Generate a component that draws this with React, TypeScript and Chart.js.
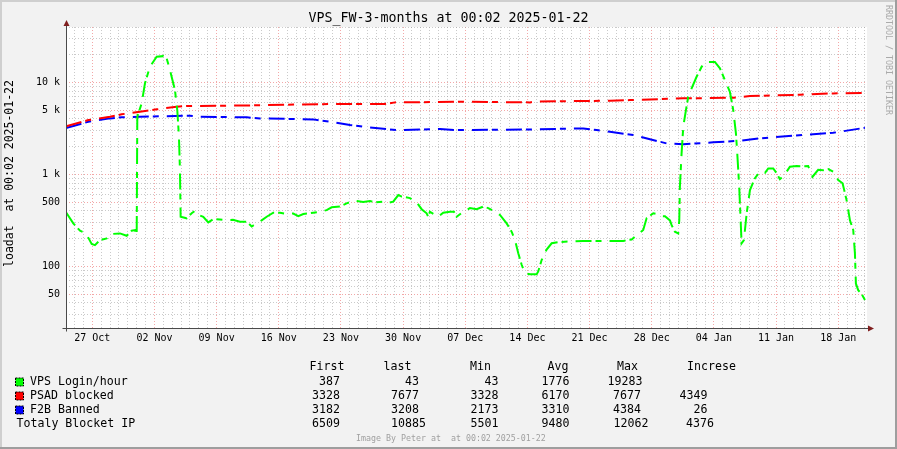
import React, { useEffect, useRef } from "react";
import { Chart, registerables } from "chart.js";

Chart.register(...registerables);

// ---------- data ----------
const chartTitle = "VPS_FW-3-months at 00:02 2025-01-22";
const yAxisTitle = "loadat  at 00:02 2025-01-22";
const sideText = "RRDTOOL / TOBI OETIKER";
const footerText = "Image By Peter at  at 00:02 2025-01-22";

// x is measured in days from the "27 Oct" major grid line
const xMin = -2.96;
const xMax = 87.24;
const xTickLabels = ["27 Oct", "02 Nov", "09 Nov", "16 Nov", "23 Nov", "30 Nov", "07 Dec", "14 Dec", "21 Dec", "28 Dec", "04 Jan", "11 Jan", "18 Jan"];

const yMin = 21.35;
const yMax = 40000;
const yMajorValues = [50, 100, 500, 1000, 5000, 10000];
const yMajorLabels = ["50", "100", "500", "1 k", "5 k", "10 k"];

const vpsDays = [
  -2.96, -2.14, -1.38, -0.71, -0.07, 0.3, 0.87, 1.62, 1.99, 3.12,
  3.87, 4.44, 4.81, 5.0, 5.07, 5.56, 5.93, 6.49, 7.25, 7.99,
  8.38, 8.75, 9.31, 9.57, 9.76, 9.87, 9.95, 10.63, 11.19, 11.56,
  11.94, 12.5, 13.06, 13.62, 14.38, 14.94, 15.84, 16.63, 17.39, 17.95,
  18.51, 19.07, 19.64, 20.38, 21.13, 21.89, 22.63, 23.2, 23.76, 24.88,
  25.64, 26.39, 26.96, 27.89, 28.64, 29.58, 30.51, 31.27, 31.83, 32.77,
  33.15, 33.89, 34.46, 34.84, 35.77, 36.53, 37.09, 37.65, 37.83, 38.02,
  38.96, 39.52, 40.28, 40.73, 41.03, 41.77, 42.53, 43.28, 44.03, 44.59,
  45.15, 45.91, 46.66, 47.22, 47.6, 47.97, 48.35, 48.72, 49.29, 50.04,
  50.22, 50.6, 51.16, 51.73, 52.66, 55.29, 58.29, 59.79, 60.74, 62.04,
  62.42, 63.17, 63.55, 63.92, 64.49, 65.05, 65.24, 65.61, 65.98, 66.1,
  66.17, 66.36, 66.55, 66.85, 67.11, 67.49, 68.05, 68.62, 69.18, 70.11,
  70.68, 71.24, 71.8, 72.18, 72.48, 72.63, 72.85, 73.01, 73.12, 73.38,
  73.69, 74.06, 74.62, 75.18, 75.75, 76.12, 76.68, 77.06, 77.43, 77.99,
  78.56, 79.31, 80.05, 80.62, 81.11, 81.74, 82.31, 82.87, 83.43, 84.0,
  84.49, 84.94, 85.32, 85.69, 85.88, 85.99, 86.25, 86.63, 87.01,
];
const vpsValues = [
  387, 293, 244, 228, 175, 170, 193, 201, 224, 228,
  215, 244, 248, 215, 4227, 5913, 9750, 14800, 18970, 19283,
  18200, 13600, 8250, 5000, 2560, 1120, 346, 333, 377, 401,
  362, 346, 300, 326, 322, 318, 320, 306, 306, 271,
  293, 316, 346, 383, 383, 371, 375, 352, 371, 383,
  392, 408, 438, 446, 484, 518, 500, 514, 495, 505,
  484, 505, 596, 573, 552, 495, 418, 377, 346, 392,
  346, 383, 392, 392, 346, 392, 430, 418, 446, 430,
  401, 362, 293, 238, 193, 139, 104, 84, 82, 82,
  88, 117, 152, 178, 184, 189, 189, 189, 196, 248,
  333, 377, 370, 352, 350, 316, 280, 238, 228, 316,
  734, 1690, 3290, 5000, 6970, 8600, 11500, 14800, 16700, 16700,
  14200, 10600, 7900, 5000, 2790, 1690, 734, 316, 178, 193,
  377, 674, 909, 1070, 1040, 1160, 1160, 1030, 885, 1000,
  1210, 1230, 1220, 1230, 942, 1120, 1110, 1140, 1070, 869,
  799, 525, 316, 248, 139, 65, 55, 50, 43,
];

const psadDays = [-2.96, -0.45, 1.99, 3.31, 5.37, 7.25, 9.5, 10.63, 17.76, 23.4, 27.89, 32.96, 34.09, 41.77, 49.29, 50.04, 54.21, 58.3, 60.54, 66.55, 72.18, 74.06, 79.69, 83.43, 87.01];
const psadValues = [3328, 3890, 4230, 4500, 4790, 5090, 5430, 5530, 5620, 5750, 5830, 5830, 6060, 6150, 6060, 6210, 6260, 6310, 6420, 6700, 6800, 7090, 7330, 7590, 7677];

const f2bDays = [-2.96, -0.45, 1.99, 3.31, 5.37, 11.0, 12.13, 17.39, 18.89, 24.88, 26.76, 29.02, 31.27, 34.28, 39.15, 41.03, 49.29, 55.29, 56.8, 58.29, 60.92, 62.8, 64.68, 66.55, 69.93, 72.93, 75.18, 78.93, 83.43, 87.01];
const f2bValues = [3182, 3730, 4060, 4170, 4230, 4340, 4230, 4170, 4060, 3960, 3730, 3440, 3240, 3030, 3110, 3030, 3080, 3160, 3030, 2900, 2680, 2410, 2170, 2120, 2230, 2320, 2460, 2630, 2830, 3208];

const legendHeaders = ["First", "last", "Min", "Avg", "Max", "Increse"];
const seriesNames = ["VPS Login/hour", "PSAD blocked", "F2B Banned", "Totaly Blocket IP"];
const seriesColors = ["#00ff00", "#ff0000", "#0000ff", ""];
const vpsStats = ["387", "43", "43", "1776", "19283", ""];
const psadStats = ["3328", "7677", "3328", "6170", "7677", "4349"];
const f2bStats = ["3182", "3208", "2173", "3310", "4384", "26"];
const totalStats = ["6509", "10885", "5501", "9480", "12062", "4376"];

// ---------- styling ----------
const FONT = "'DejaVu Sans Mono', monospace";
const MINOR_GRID = "rgba(150,150,150,0.5)";
const MAJOR_GRID = "rgba(235,110,110,0.6)";
const LINE_DASH = [16, 4, 6, 8];

const toPoints = (xs: number[], ys: number[]) => xs.map((x, i) => ({ x, y: ys[i] }));

const yGridValues: number[] = (() => {
  const out: number[] = [];
  for (let e = 1; e <= 4; e++) {
    for (let m = 1; m <= 9; m++) {
      const v = m * Math.pow(10, e);
      if (v >= yMin && v <= yMax) out.push(v);
    }
  }
  return out;
})();

const isMajorY = (v: number) => yMajorValues.some((m) => Math.abs(m - v) < 1e-6);

const rrdPlugin = {
  id: "rrdDecor",
  beforeDraw(chart: any) {
    const { ctx, width, height, chartArea: a } = chart;
    ctx.save();
    ctx.fillStyle = "#f2f2f2";
    ctx.fillRect(0, 0, width, height);
    ctx.fillStyle = "#ffffff";
    ctx.fillRect(a.left, a.top, a.right - a.left, a.bottom - a.top);
    ctx.fillStyle = "#cfcfcf";
    ctx.fillRect(0, 0, width, 2);
    ctx.fillRect(0, 0, 2, height);
    ctx.fillStyle = "#9e9e9e";
    ctx.fillRect(0, height - 2, width, 2);
    ctx.fillRect(width - 2, 0, 2, height);
    ctx.restore();
  },
  afterDraw(chart: any) {
    const { ctx, chartArea: a } = chart;
    ctx.save();
    // axes
    const ax = Math.round(a.left) + 0.5;
    const ay = Math.round(a.bottom) + 0.5;
    ctx.strokeStyle = "#4a4a4a";
    ctx.lineWidth = 1;
    ctx.beginPath();
    ctx.moveTo(ax, ay + 3);
    ctx.lineTo(ax, a.top - 3);
    ctx.moveTo(ax - 4, ay);
    ctx.lineTo(a.right + 3, ay);
    ctx.stroke();
    // arrows
    ctx.fillStyle = "#801f1f";
    ctx.beginPath();
    ctx.moveTo(ax - 3, a.top - 1);
    ctx.lineTo(ax + 3, a.top - 1);
    ctx.lineTo(ax, a.top - 7);
    ctx.closePath();
    ctx.fill();
    ctx.beginPath();
    ctx.moveTo(a.right + 1, ay - 3);
    ctx.lineTo(a.right + 1, ay + 3);
    ctx.lineTo(a.right + 7, ay);
    ctx.closePath();
    ctx.fill();

    // title
    ctx.fillStyle = "#000";
    ctx.font = `13.3px ${FONT}`;
    ctx.textAlign = "center";
    ctx.textBaseline = "middle";
    ctx.fillText(chartTitle, 448.5, 19);

    // y title
    ctx.save();
    ctx.translate(10.5, 173.5);
    ctx.rotate(-Math.PI / 2);
    ctx.font = `11.5px ${FONT}`;
    ctx.fillText(yAxisTitle, 0, 0);
    ctx.restore();

    // side watermark
    ctx.save();
    ctx.translate(888, 60);
    ctx.rotate(Math.PI / 2);
    ctx.font = `8.3px ${FONT}`;
    ctx.fillStyle = "#aaaaaa";
    ctx.fillText(sideText, 0, 0);
    ctx.restore();

    // legend
    ctx.font = `11.6px ${FONT}`;
    ctx.fillStyle = "#000";
    ctx.textAlign = "left";
    const headerX = [309.5, 383.5, 470, 547.5, 617, 687];
    legendHeaders.forEach((h, i) => ctx.fillText(h, headerX[i], 367));

    const rowsY = [382, 396, 410, 424];
    const statRows = [vpsStats, psadStats, f2bStats, totalStats];
    const rightX = [
      [340, 419, 498.5, 569.5, 642.5, 707.5],
      [340, 419, 498.5, 569.5, 641, 707.5],
      [340, 419, 498.5, 569.5, 641, 707.5],
      [340, 426, 498.5, 569.5, 648.5, 714],
    ];
    statRows.forEach((row, r) => {
      const y = rowsY[r];
      if (seriesColors[r]) {
        ctx.fillStyle = seriesColors[r];
        ctx.fillRect(15.5, y - 4, 8, 8);
        ctx.strokeStyle = "#000";
        ctx.lineWidth = 1;
        ctx.setLineDash([2, 1]);
        ctx.strokeRect(15.5, y - 4, 8, 8);
        ctx.setLineDash([]);
      }
      ctx.fillStyle = "#000";
      ctx.textAlign = "left";
      ctx.fillText(seriesNames[r], seriesColors[r] ? 30 : 16.5, y);
      ctx.textAlign = "right";
      row.forEach((s, c) => {
        if (s) ctx.fillText(s, rightX[r][c], y);
      });
    });

    // footer
    ctx.textAlign = "left";
    ctx.font = `8.3px ${FONT}`;
    ctx.fillStyle = "#a0a0a0";
    ctx.fillText(footerText, 356, 439);
    ctx.restore();
  },
};

export default function App() {
  const ref = useRef<HTMLCanvasElement | null>(null);

  useEffect(() => {
    document.body.style.margin = "0";
    const canvas = ref.current;
    if (!canvas) return;
    const lineDs = (label: string, xs: number[], ys: number[], color: string) => ({
      label,
      data: toPoints(xs, ys),
      borderColor: color,
      backgroundColor: color,
      borderWidth: 2,
      borderDash: LINE_DASH,
      pointRadius: 0,
      tension: 0,
      fill: false,
    });
    const chart = new Chart(canvas, {
      type: "line",
      data: {
        datasets: [
          lineDs(seriesNames[0], vpsDays, vpsValues, seriesColors[0]),
          lineDs(seriesNames[1], psadDays, psadValues, seriesColors[1]),
          lineDs(seriesNames[2], f2bDays, f2bValues, seriesColors[2]),
        ],
      },
      options: {
        animation: false,
        responsive: false,
        devicePixelRatio: 1,
        layout: { padding: { left: 10, top: 27, right: 30, bottom: 99 } },
        plugins: {
          legend: { display: false },
          tooltip: { enabled: false },
          title: { display: false },
        },
        scales: {
          x: {
            type: "linear",
            min: xMin,
            max: xMax,
            afterBuildTicks: (s: any) => {
              const t: any[] = [];
              for (let d = Math.ceil(xMin); d <= Math.floor(xMax); d++) t.push({ value: d });
              s.ticks = t;
            },
            afterFit: (s: any) => {
              s.height = 22;
            },
            ticks: {
              autoSkip: false,
              maxRotation: 0,
              minRotation: 0,
              padding: 4,
              color: "#000",
              font: { family: FONT, size: 10 },
              callback: (v: any) => {
                const n = Math.round(Number(v));
                return n % 7 === 0 && n >= 0 ? xTickLabels[n / 7] ?? "" : "";
              },
            },
            grid: {
              drawTicks: false,
              lineWidth: 1,
              color: (c: any) => {
                const v = c.tick ? Math.round(c.tick.value) : 1;
                return v % 7 === 0 ? MAJOR_GRID : MINOR_GRID;
              },
            },
            border: { display: false, dash: [1, 2] },
          },
          y: {
            type: "logarithmic",
            min: yMin,
            max: yMax,
            afterBuildTicks: (s: any) => {
              s.ticks = yGridValues.map((v) => ({ value: v }));
            },
            afterFit: (s: any) => {
              s.width = 56;
            },
            ticks: {
              autoSkip: false,
              padding: 6,
              color: "#000",
              font: { family: FONT, size: 10 },
              callback: (v: any) => {
                const i = yMajorValues.findIndex((m) => Math.abs(m - Number(v)) < 1e-6);
                return i >= 0 ? yMajorLabels[i] : "";
              },
            },
            grid: {
              drawTicks: false,
              lineWidth: 1,
              color: (c: any) => (c.tick && isMajorY(c.tick.value) ? MAJOR_GRID : MINOR_GRID),
            },
            border: { display: false, dash: [1, 2] },
          },
        },
      } as any,
      plugins: [rrdPlugin],
    });
    return () => chart.destroy();
  }, []);

  return <canvas ref={ref} width={897} height={449} style={{ display: "block" }} />;
}
